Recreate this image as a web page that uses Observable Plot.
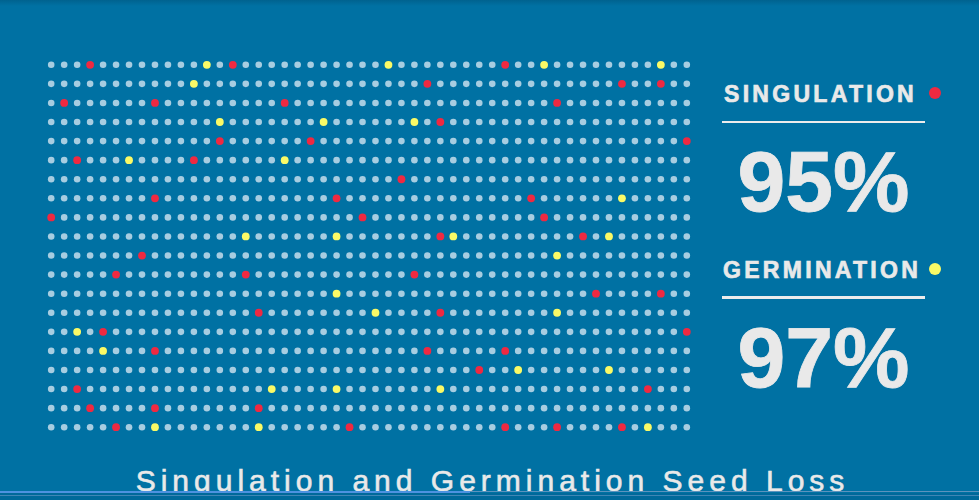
<!DOCTYPE html>
<html>
<head>
<meta charset="utf-8">
<script src="https://cdn.jsdelivr.net/npm/d3@7"></script>
<script src="https://cdn.jsdelivr.net/npm/@observablehq/plot@0.6"></script>
<style>
  html, body { margin: 0; padding: 0; }
  body {
    width: 979px; height: 500px; overflow: hidden; position: relative;
    background: linear-gradient(#00628f 0px, #0071a3 6px, #0071a3 100%);
    font-family: "Liberation Sans", Arial, sans-serif;
    color: #e9e9e9;
  }
  #row { display: flex; width: 979px; height: 455px; }
  #chart { width: 700px; height: 455px; }
  #panel { position: relative; width: 279px; height: 455px; }
  .label { position: absolute; font-weight: bold; font-size: 23px; line-height: 23px; letter-spacing: 3.3px; white-space: nowrap; -webkit-text-stroke: 0.7px #e9e9e9; }
  .swatch { position: absolute; width: 12px; height: 12px; border-radius: 50%; }
  .rule { position: absolute; height: 2.5px; background: #ececec; }
  .value { position: absolute; font-weight: bold; font-size: 86px; line-height: 86px; text-align: center; white-space: nowrap; -webkit-text-stroke: 0.8px #e9e9e9; }
  #footer { position: relative; width: 979px; height: 45px; }
  #title { position: absolute; left: 0; top: 10.5px; width: 979px; text-align: center; font-size: 30px; line-height: 30px; letter-spacing: 5px; padding-left: 6px; box-sizing: border-box; white-space: nowrap; -webkit-text-stroke: 0.6px #e9e9e9; }
  .bar { position: absolute; left: 0; }
</style>
</head>
<body>
<div id="row"><div id="chart"></div><div id="panel"></div></div>
<div id="footer"><div id="title"></div></div>
<script>
// ---- data ----
const nCols = 50;
const nRows = 20;
// seeds lost to singulation, as [row, column]
const singulationLoss = [
  [0,3],[0,14],[0,35],
  [1,29],[1,44],[1,47],
  [2,1],[2,8],[2,18],[2,39],
  [3,30],
  [4,13],[4,20],[4,49],
  [5,2],[5,11],
  [6,27],
  [7,8],[7,22],[7,37],
  [8,0],[8,24],[8,38],
  [9,30],[9,41],
  [10,7],
  [11,5],[11,15],[11,28],
  [12,42],[12,47],
  [13,16],[13,30],
  [14,4],[14,49],
  [15,8],[15,29],[15,35],
  [16,33],
  [17,2],[17,46],
  [18,3],[18,8],[18,16],
  [19,5],[19,23],[19,35],[19,39],[19,44]
];
// seeds lost to germination, as [row, column]
const germinationLoss = [
  [0,12],[0,26],[0,38],[0,47],
  [1,11],
  [3,13],[3,21],[3,28],
  [5,6],[5,18],
  [7,44],
  [9,15],[9,22],[9,31],[9,43],
  [10,39],
  [12,22],
  [13,25],[13,39],
  [14,2],
  [15,4],
  [16,36],[16,43],
  [17,17],[17,22],[17,30],
  [19,8],[19,16],[19,46]
];
const metricLabels = ["SINGULATION", "GERMINATION"];
const metricValues = [95, 97];
const statusNames = ["ok", "singulation", "germination"];
const statusColors = ["#a7cde1", "#ef2941", "#fafa66"];
const titleText = "Singulation and Germination Seed Loss";

// ---- build table ----
const lost = new Map();
singulationLoss.forEach(([r, c]) => lost.set(r + ":" + c, "singulation"));
germinationLoss.forEach(([r, c]) => lost.set(r + ":" + c, "germination"));
const seeds = d3.cross(d3.range(nRows), d3.range(nCols)).map(([row, col]) => ({
  row, col, status: lost.get(row + ":" + col) || "ok"
}));

const chart = Plot.plot({
  width: 700,
  height: 455,
  margin: 0,
  style: { background: "transparent" },
  x: { domain: [0, nCols - 1], range: [50.7, 686.3], axis: null },
  y: { domain: [0, nRows - 1], range: [64.3, 426.7], axis: null },
  color: { domain: statusNames, range: statusColors },
  marks: [
    Plot.dot(seeds.filter(d => d.status === "ok"), { x: "col", y: "row", r: 3.3, fill: "status" }),
    Plot.dot(seeds.filter(d => d.status !== "ok"), { x: "col", y: "row", r: 3.9, fill: "status" })
  ]
});
document.getElementById("chart").appendChild(chart);

// ---- right-hand key ----
const panel = document.getElementById("panel");
const px0 = 700;
const blockOffsets = [0, 175.5];
metricLabels.forEach((lab, i) => {
  const off = blockOffsets[i];
  const l = document.createElement("div");
  l.className = "label";
  l.textContent = lab;
  l.style.left = (724 - px0 - (i ? 1 : 0)) + "px";
  l.style.top = (83.4 + off) + "px";
  panel.appendChild(l);

  const s = document.createElement("div");
  s.className = "swatch";
  s.style.background = chart.scale("color").apply(statusNames[i + 1]);
  s.style.left = (935 - 6 - px0) + "px";
  s.style.top = (93.3 - 6 + off) + "px";
  panel.appendChild(s);

  const ru = document.createElement("div");
  ru.className = "rule";
  ru.style.left = (722 - px0) + "px";
  ru.style.width = "203px";
  ru.style.top = (120.8 + off) + "px";
  panel.appendChild(ru);

  const v = document.createElement("div");
  v.className = "value";
  v.textContent = metricValues[i] + "%";
  v.style.left = (722 - px0) + "px";
  v.style.width = "203px";
  v.style.top = (138 + off) + "px";
  panel.appendChild(v);
});

// ---- footer title and rules ----
document.getElementById("title").textContent = titleText;
const footer = document.getElementById("footer");
[
  { top: 36, height: 1, width: 979, color: "#5c93bd" },
  { top: 36, height: 1.8, width: 470, color: "#4d92e0" },
  { top: 38, height: 7, width: 979, color: "#00699a" },
  { top: 39.5, height: 1, width: 979, color: "#3f86b5" }
].forEach(b => {
  const d = document.createElement("div");
  d.className = "bar";
  d.style.top = b.top + "px";
  d.style.height = b.height + "px";
  d.style.width = b.width + "px";
  d.style.background = b.color;
  footer.appendChild(d);
});
</script>
</body>
</html>
